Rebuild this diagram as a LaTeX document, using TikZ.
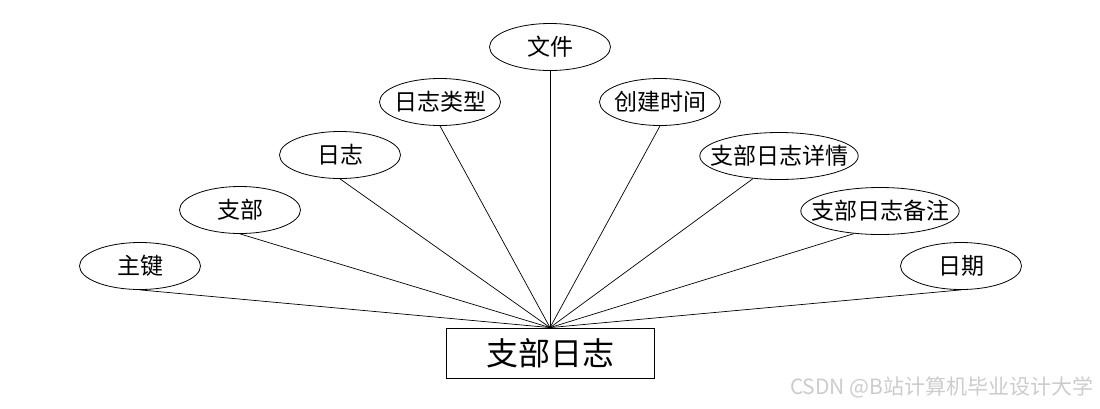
\documentclass[tikz,border=0pt]{standalone}
\usepackage{fontspec}
\setmainfont{Noto Sans CJK SC}
\usetikzlibrary{shapes.geometric}

\tikzset{
  attr/.style={draw, ellipse, line width=0.8pt, inner ysep=0pt, inner xsep=-4pt, minimum width=121pt, minimum height=47pt, font=\fontsize{23}{23}\selectfont},
  wideattr/.style={attr, inner xsep=-13pt, minimum width=158pt},
  entity/.style={draw, rectangle, line width=0.8pt, inner sep=0pt, minimum width=208pt, minimum height=50pt, font=\fontsize{32}{32}\selectfont},
  link/.style={line width=0.7pt}
}

\begin{document}
\begin{tikzpicture}[x=1pt, y=-1pt]
        % Canvas
        \useasboundingbox (0,0) rectangle (1100,408);

        % Entity
        \node[entity] (rizhi) at (550,353) {支部日志};

        % Attributes
        \node[attr] (zhujian) at (140,266) {主键};
        \node[attr] (zhibu) at (240,210) {支部};
        \node[attr] (log) at (340,155) {日志};
        \node[attr] (leixing) at (440,102) {日志类型};
        \node[attr] (wenjian) at (550,47) {文件};
        \node[attr] (chuangjian) at (660,102) {创建时间};
        \node[wideattr] (xiangqing) at (779,156) {支部日志详情};
        \node[wideattr] (beizhu) at (880,211) {支部日志备注};
        \node[attr] (riqi) at (961,266) {日期};

        % Links
        \foreach \a in {zhujian, zhibu, log, leixing, wenjian, chuangjian, riqi} {
            \draw[link] (\a.south) -- (rizhi.north);
        }
        \draw[link] (xiangqing.221) -- (rizhi.north);
        \draw[link] (beizhu.221) -- (rizhi.north);

        % Watermark
        \node[anchor=east, text=gray!40, font=\fontsize{21}{21}\selectfont] (mark) at (1097,387) {CSDN @B站计算机毕业设计大学};

    \end{tikzpicture}
\end{document}
